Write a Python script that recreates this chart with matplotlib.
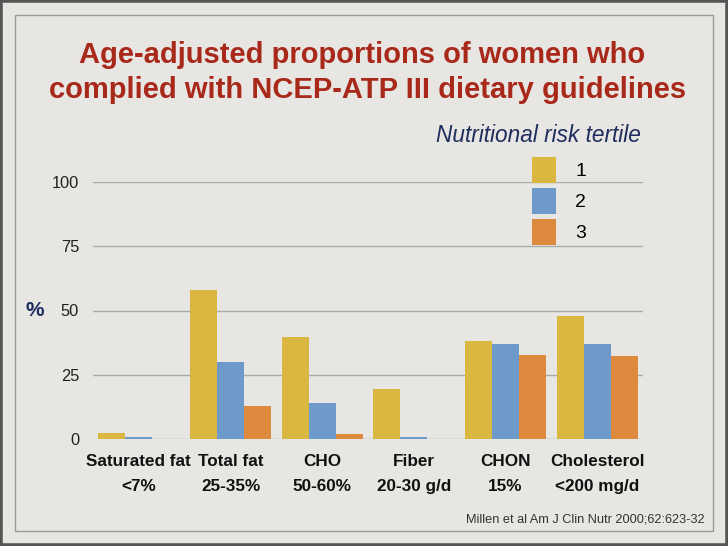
import matplotlib
matplotlib.use('Agg')
import matplotlib.pyplot as plt
from matplotlib.patches import Rectangle
import numpy as np

plt.rcParams['font.family'] = ['Liberation Sans', 'DejaVu Sans']

categories = ['Saturated fat', 'Total fat', 'CHO', 'Fiber', 'CHON', 'Cholesterol']
targets = ['<7%', '25-35%', '50-60%', '20-30 g/d', '15%', '<200 mg/d']
tertile1 = [2.3, 58, 39.8, 19.6, 38.3, 48]
tertile2 = [0.9, 30, 14.1, 0.9, 37.1, 37.1]
tertile3 = [0, 13, 2, 0, 32.8, 32.4]
series_labels = ['1', '2', '3']
yticks = [0, 25, 50, 75, 100]
title_lines = ['Age-adjusted proportions of women who',
               'complied with NCEP-ATP III dietary guidelines']

colors = ['#D9B740', '#6E9ACA', '#DE8A3E']
bg = '#E7E6E2'

fig = plt.figure(figsize=(7.28, 5.46), dpi=100)
fig.patch.set_facecolor(bg)

# slide frame
fig.patches.append(Rectangle((0, 0), 1, 1, transform=fig.transFigure,
                             fill=False, edgecolor='#555555', lw=4))
fig.patches.append(Rectangle((15/728, 15/546), 698/728, 516/546, transform=fig.transFigure,
                             fill=False, edgecolor='#9A9A9A', lw=1))

ax = fig.add_axes([93/728, 1 - 439/546, 550/728, 257/546])
ax.set_facecolor('none')

x = np.arange(len(categories)) + 0.5
w = 0.295
bars = []
for k, vals in enumerate([tertile1, tertile2, tertile3]):
    b = ax.bar(x + (k - 1) * w, vals, w, color=colors[k], label=series_labels[k], zorder=3)
    bars.append(b)

ax.set_xlim(0, len(categories))
ax.set_ylim(0, 100)
ax.set_yticks(yticks)
ax.set_yticklabels([str(t) for t in yticks], fontsize=11.8, color='#222222')
ax.yaxis.grid(True, color='#A9A9A9', lw=1, zorder=0)
ax.tick_params(axis='y', length=0, pad=10)
ax.tick_params(axis='x', length=0, pad=11)
ax.set_xticks(x)
ax.set_xticklabels([c + '\n' + t for c, t in zip(categories, targets)],
                   fontsize=12.3, fontweight='bold', linespacing=1.85, color='#111111')
for s in ax.spines.values():
    s.set_visible(False)

fig.text(35/728, 1 - 310/546, '%', fontsize=15, fontweight='bold', color='#1F2E5E',
         ha='center', va='center')

# title, two lines placed by baseline
fig.text(362/728, 1 - 63/546, title_lines[0], fontsize=21, fontweight='bold',
         color='#A8281A', ha='center', va='baseline')
fig.text(368/728, 1 - 98/546, title_lines[1], fontsize=21, fontweight='bold',
         color='#A8281A', ha='center', va='baseline')

fig.text(538/728, 1 - 135/546, 'Nutritional risk tertile', fontsize=16.3, style='italic',
         color='#1F2E5E', ha='center', va='center')

leg = fig.legend(handles=bars, labels=series_labels, loc='upper left',
                 bbox_to_anchor=(522/728, 1 - 147/546), frameon=False, fontsize=14,
                 handlelength=1.25, handleheight=1.7, labelspacing=0.25, handletextpad=1.0,
                 borderpad=0)

fig.text(705/728, 1 - 520/546, 'Millen et al Am J Clin Nutr 2000;62:623-32', fontsize=9.2,
         color='#333333', ha='right', va='center')

fig.savefig('out.png', dpi=100, facecolor=bg)
